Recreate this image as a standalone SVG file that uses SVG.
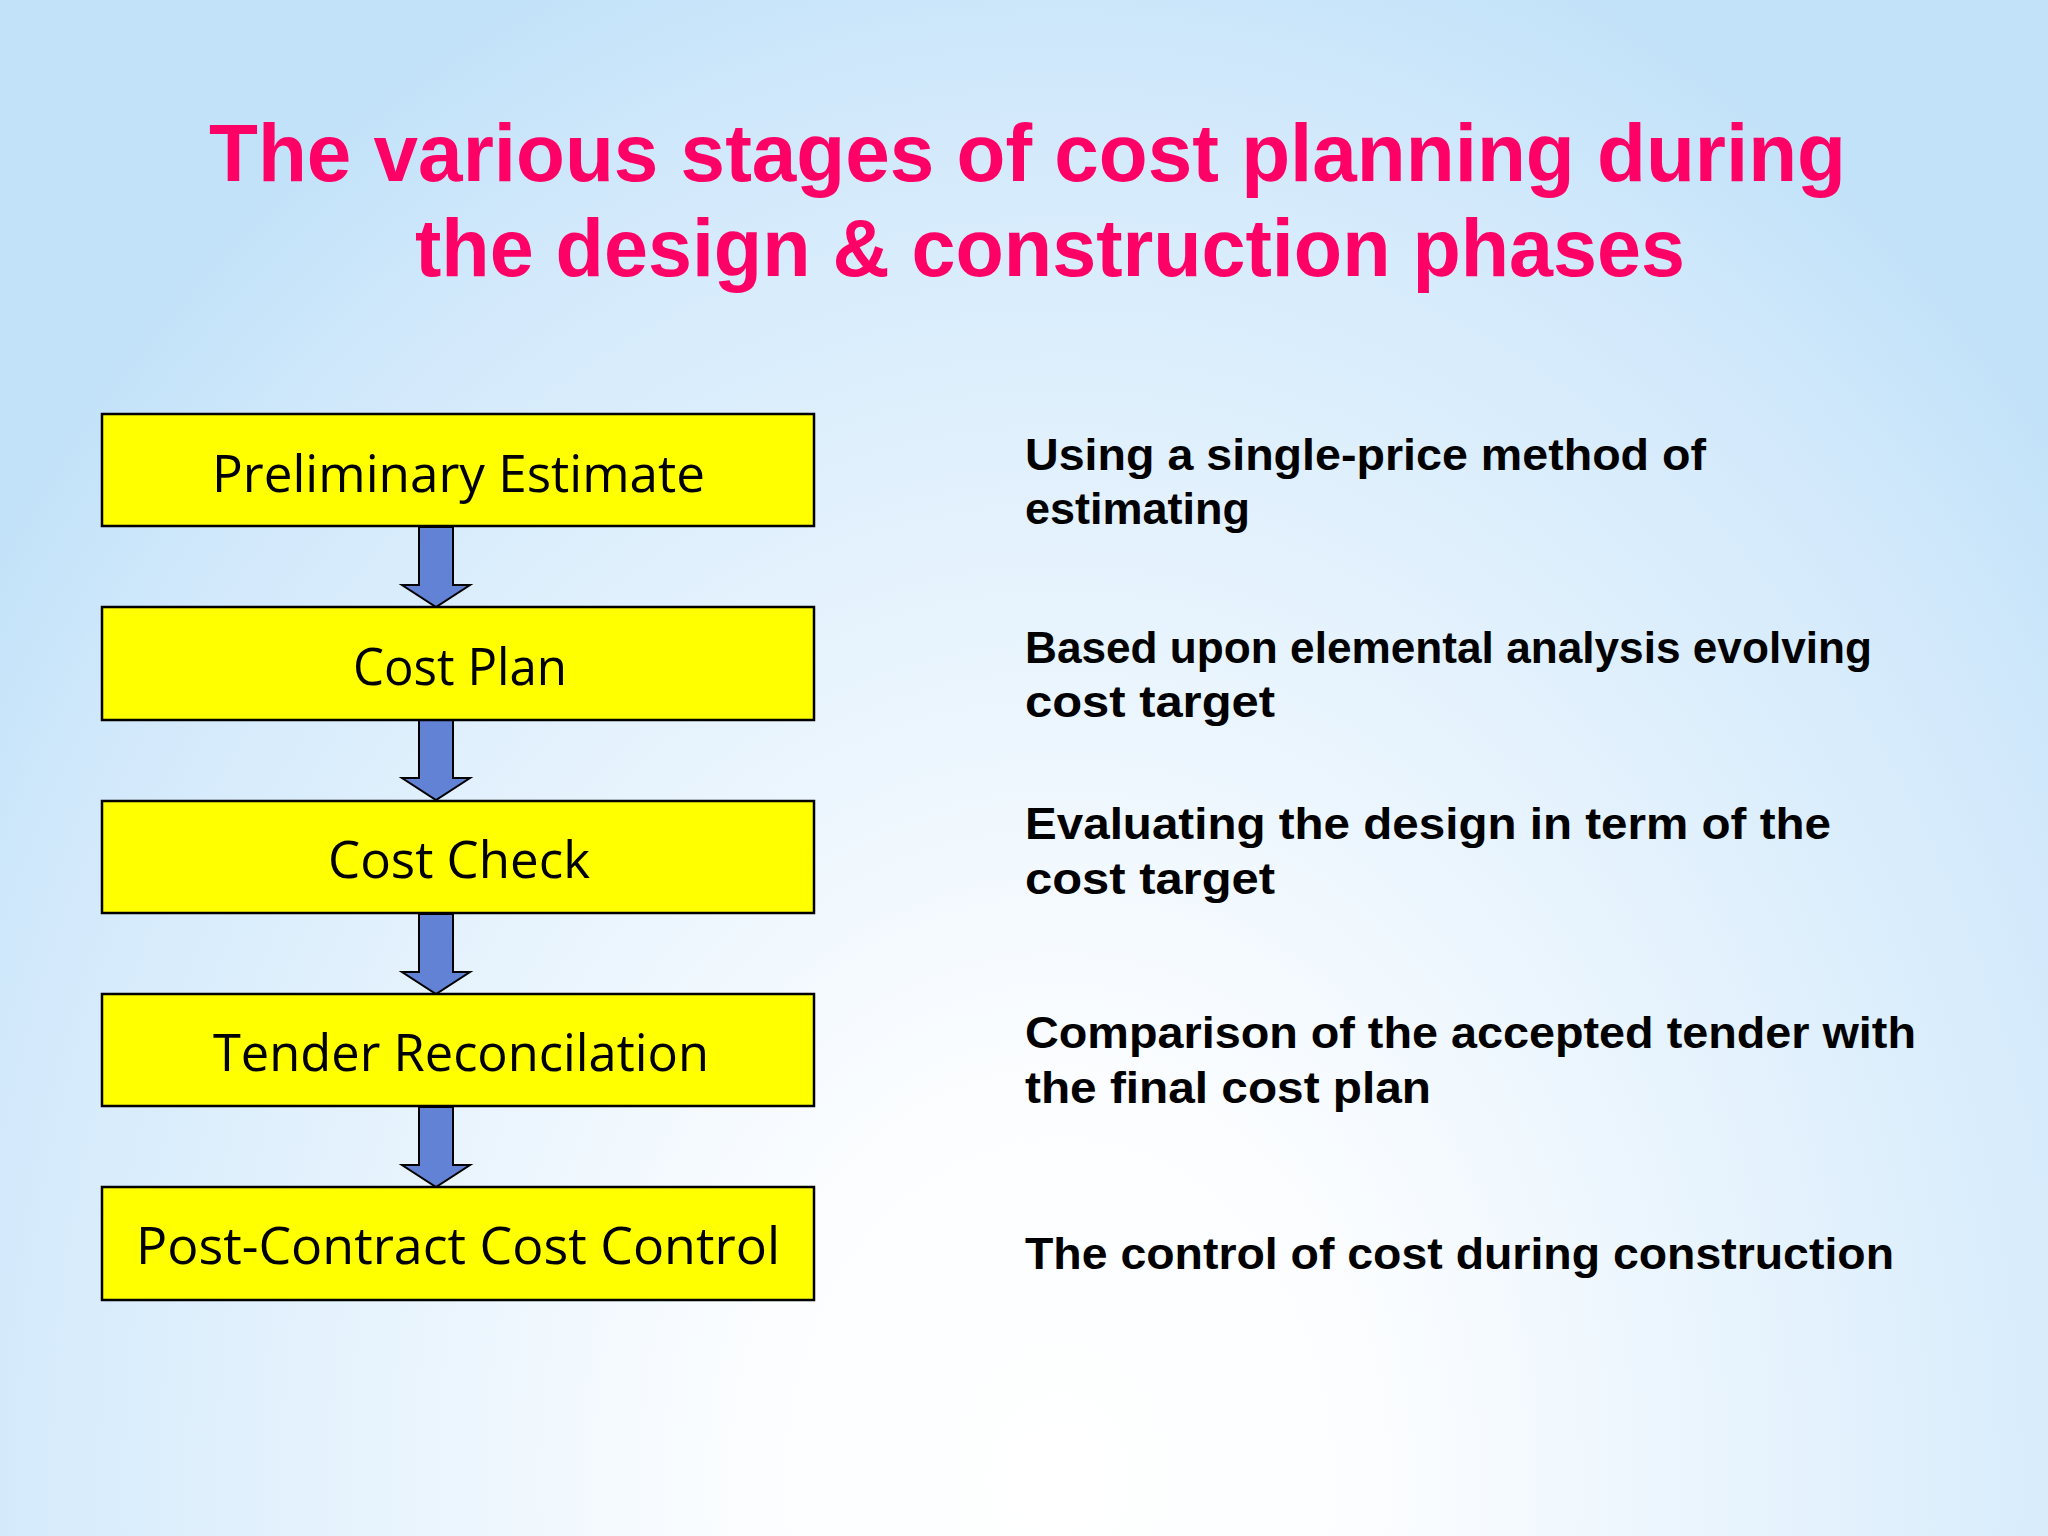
<svg xmlns="http://www.w3.org/2000/svg" width="2048" height="1536" viewBox="0 0 2048 1536">
<defs>
<radialGradient id="bg" cx="1060" cy="1480" r="1300" gradientUnits="userSpaceOnUse" gradientTransform="translate(1060 1480) scale(1 1.25) translate(-1060 -1480)">
<stop offset="0" stop-color="#ffffff"/>
<stop offset="0.25" stop-color="#fbfdff"/>
<stop offset="0.55" stop-color="#e6f3fd"/>
<stop offset="0.85" stop-color="#d2e9fb"/>
<stop offset="1" stop-color="#c2e2f9"/>
</radialGradient>
<style>
.box{fill:#ffff00;stroke:#000;stroke-width:2.5}
.lbl{font-family:"Comic Sans MS","Open Sans","DejaVu Sans",sans-serif;font-size:52px;fill:#000;text-anchor:start}
.desc{font-family:"Comic Sans MS","Liberation Sans",sans-serif;font-size:45px;font-weight:bold;fill:#000}
.title{font-family:"Comic Sans MS","Liberation Sans",sans-serif;font-size:82px;font-weight:bold;fill:#ff0066}
.arr{fill:#6282d6;stroke:#000;stroke-width:2;stroke-linejoin:miter}
</style>
</defs>
<rect x="0" y="0" width="2048" height="1536" fill="url(#bg)"/>
<g id="title">
<text class="title" x="209" y="181" textLength="1637" lengthAdjust="spacingAndGlyphs">The various stages of cost planning during</text>
<text class="title" x="415" y="276" textLength="1270" lengthAdjust="spacingAndGlyphs">the design &amp; construction phases</text>
</g>
<g id="connectors">
<polygon class="arr" points="419,527 453,527 453,585 470,585 436,607 402,585 419,585"/>
<polygon class="arr" points="419,720 453,720 453,778 470,778 436,800 402,778 419,778"/>
<polygon class="arr" points="419,914 453,914 453,972 470,972 436,994 402,972 419,972"/>
<polygon class="arr" points="419,1107 453,1107 453,1165 470,1165 436,1187 402,1165 419,1165"/>
</g>
<g id="node-preliminary">
<rect class="box" x="102" y="414" width="712" height="112"/>
<text class="lbl" x="212" y="492" textLength="493" lengthAdjust="spacingAndGlyphs">Preliminary Estimate</text>
</g>
<g id="node-costplan">
<rect class="box" x="102" y="607" width="712" height="113"/>
<text class="lbl" x="353" y="685" textLength="214" lengthAdjust="spacingAndGlyphs">Cost Plan</text>
</g>
<g id="node-costcheck">
<rect class="box" x="102" y="801" width="712" height="112"/>
<text class="lbl" x="328" y="878" textLength="262" lengthAdjust="spacingAndGlyphs">Cost Check</text>
</g>
<g id="node-tender">
<rect class="box" x="102" y="994" width="712" height="112"/>
<text class="lbl" x="213" y="1071" textLength="496" lengthAdjust="spacingAndGlyphs">Tender Reconcilation</text>
</g>
<g id="node-postcontract">
<rect class="box" x="102" y="1187" width="712" height="113"/>
<text class="lbl" x="136" y="1264" textLength="644" lengthAdjust="spacingAndGlyphs">Post-Contract Cost Control</text>
</g>
<g id="descriptions">
<text class="desc" x="1025" y="470" textLength="681" lengthAdjust="spacingAndGlyphs">Using a single-price method of</text>
<text class="desc" x="1025" y="524" textLength="225" lengthAdjust="spacingAndGlyphs">estimating</text>
<text class="desc" x="1025" y="663" textLength="847" lengthAdjust="spacingAndGlyphs">Based upon elemental analysis evolving</text>
<text class="desc" x="1025" y="717" textLength="250" lengthAdjust="spacingAndGlyphs">cost target</text>
<text class="desc" x="1025" y="839" textLength="806" lengthAdjust="spacingAndGlyphs">Evaluating the design in term of the</text>
<text class="desc" x="1025" y="894" textLength="250" lengthAdjust="spacingAndGlyphs">cost target</text>
<text class="desc" x="1025" y="1048" textLength="891" lengthAdjust="spacingAndGlyphs">Comparison of the accepted tender with</text>
<text class="desc" x="1025" y="1103" textLength="406" lengthAdjust="spacingAndGlyphs">the final cost plan</text>
<text class="desc" x="1025" y="1269" textLength="869" lengthAdjust="spacingAndGlyphs">The control of cost during construction</text>
</g>
</svg>
